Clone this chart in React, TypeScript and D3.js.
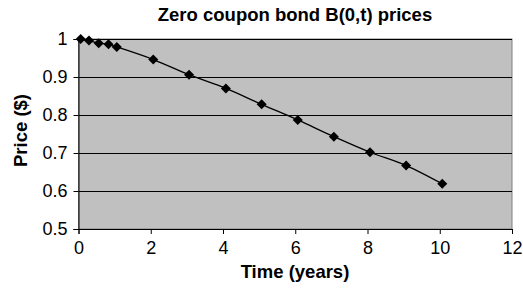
import { useEffect, useRef } from "react"
import * as d3 from "d3"

// maturities (years) and bond prices
const times = [0.06, 0.29, 0.56, 0.83, 1.06, 2.07, 3.06, 4.08, 5.07, 6.07, 7.07, 8.07, 9.07, 10.07]
const prices = [1.0, 0.996, 0.989, 0.986, 0.979, 0.946, 0.906, 0.87, 0.828, 0.787, 0.743, 0.702, 0.667, 0.619]
const xTicks = [0, 2, 4, 6, 8, 10, 12]
const yTicks = [0.5, 0.6, 0.7, 0.8, 0.9, 1]

const width = 523
const height = 289

const App = () => {
  const svgRef = useRef<SVGSVGElement | null>(null)

  useEffect(() => {
    if (!svgRef.current) return
    const svg = d3.select(svgRef.current)
    svg.selectAll("*").remove()

    const margin = { top: 39, right: 11, bottom: 60, left: 78.5 }
    const innerWidth = width - margin.left - margin.right
    const innerHeight = height - margin.top - margin.bottom
    const font = "Liberation Sans, Arial, sans-serif"

    const x = d3.scaleLinear().domain([0, 12]).range([0, innerWidth])
    const y = d3.scaleLinear().domain([0.5, 1]).range([innerHeight, 0])

    const g = svg.append("g").attr("transform", `translate(${margin.left},${margin.top})`)

    // plot background
    g.append("rect")
      .attr("width", innerWidth)
      .attr("height", innerHeight)
      .attr("fill", "#c0c0c0")
      .attr("stroke", "#808080")
      .attr("stroke-width", 1)

    // grid lines
    g.selectAll(".grid")
      .data(yTicks.filter((d) => d > 0.5))
      .join("line")
      .attr("class", "grid")
      .attr("x1", 0)
      .attr("x2", innerWidth)
      .attr("y1", (d) => Math.round(y(d)) + 0.5)
      .attr("y2", (d) => Math.round(y(d)) + 0.5)
      .attr("stroke", "#000")
      .attr("stroke-width", 1)

    // Y axis
    const yAxis = g
      .append("g")
      .call(d3.axisLeft(y).tickValues(yTicks).tickSize(5).tickPadding(6).tickFormat((d) => String(d)))
    yAxis.select(".domain").attr("stroke", "#000")
    yAxis.selectAll("text").attr("font-family", font).attr("font-size", 18).attr("fill", "#000")

    // X axis
    const xAxis = g
      .append("g")
      .attr("transform", `translate(0,${innerHeight})`)
      .call(d3.axisBottom(x).tickValues(xTicks).tickSize(5).tickPadding(7).tickFormat((d) => String(d)))
    xAxis.select(".domain").attr("stroke", "#000")
    xAxis.selectAll("text").attr("font-family", font).attr("font-size", 18).attr("fill", "#000")

    const points = times.map((t, i) => ({ t, p: prices[i] }))

    // price curve
    const line = d3
      .line<{ t: number; p: number }>()
      .x((d) => x(d.t))
      .y((d) => y(d.p))
      .curve(d3.curveMonotoneX)

    g.append("path")
      .datum(points)
      .attr("d", line)
      .attr("fill", "none")
      .attr("stroke", "#000")
      .attr("stroke-width", 1.3)

    // diamond markers
    const diamond = d3.symbol().type(d3.symbolDiamond2).size(64)
    g.selectAll(".marker")
      .data(points)
      .join("path")
      .attr("class", "marker")
      .attr("transform", (d) => `translate(${x(d.t)},${y(d.p)})`)
      .attr("d", diamond)
      .attr("fill", "#000")

    // title
    svg.append("text")
      .attr("x", 295)
      .attr("y", 21)
      .attr("text-anchor", "middle")
      .attr("font-family", font)
      .attr("font-size", 18.5)
      .attr("font-weight", "bold")
      .text("Zero coupon bond B(0,t) prices")

    // axis titles
    svg.append("text")
      .attr("x", 295)
      .attr("y", 278)
      .attr("text-anchor", "middle")
      .attr("font-family", font)
      .attr("font-size", 18.5)
      .attr("font-weight", "bold")
      .text("Time (years)")

    svg.append("text")
      .attr("transform", `translate(27,130.5) rotate(-90)`)
      .attr("text-anchor", "middle")
      .attr("font-family", font)
      .attr("font-size", 18.5)
      .attr("font-weight", "bold")
      .text("Price ($)")
  }, [])

  return (
    <svg
      ref={svgRef}
      width={width}
      height={height}
      style={{ position: "absolute", left: 0, top: 0, background: "#fff" }}
    />
  )
}

export default App
